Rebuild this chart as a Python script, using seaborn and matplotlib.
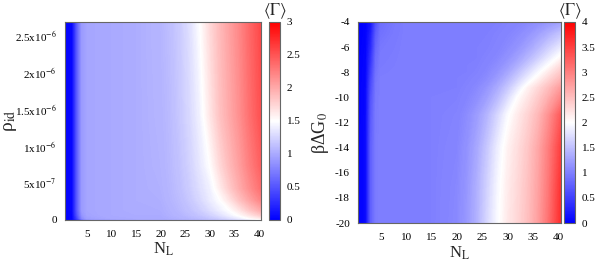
import numpy as np
import matplotlib
matplotlib.use("Agg")
import matplotlib.pyplot as plt
from matplotlib.cm import ScalarMappable
from matplotlib.colors import Normalize
import seaborn as sns

# N_L grid columns (outer columns sit on the cell edges 0.5 / 40.5)
n_l = [0.5, 2, 3, 4, 5, 10, 15, 20, 22, 24, 26, 28, 30, 32, 34, 36, 38, 40.5]

# left panel: <Gamma> read along rows of constant rho_id
rho_id = [0, 0.02e-6, 0.07e-6, 0.135e-6, 0.27e-6, 0.43e-6, 0.74e-6, 1.42e-6, 2.68e-6]
gamma_rho = [
    [0.00, 0.02, 0.25, 0.55, 0.78, 0.90, 0.94, 0.97, 0.98, 1.00, 1.02, 1.05, 1.08, 1.12, 1.17, 1.23, 1.30, 1.38],
    [0.00, 0.03, 0.40, 0.80, 0.93, 0.98, 1.00, 1.00, 1.02, 1.04, 1.07, 1.10, 1.15, 1.21, 1.29, 1.38, 1.50, 1.62],
    [0.00, 0.04, 0.50, 0.88, 0.96, 1.00, 1.01, 1.01, 1.04, 1.07, 1.11, 1.16, 1.23, 1.32, 1.42, 1.53, 1.66, 1.82],
    [0.00, 0.05, 0.55, 0.92, 0.97, 1.00, 1.02, 1.02, 1.05, 1.09, 1.14, 1.21, 1.30, 1.40, 1.50, 1.65, 1.82, 2.00],
    [0.00, 0.05, 0.55, 0.92, 0.97, 1.00, 1.02, 1.03, 1.07, 1.11, 1.18, 1.27, 1.38, 1.49, 1.66, 1.85, 2.02, 2.22],
    [0.00, 0.05, 0.55, 0.92, 0.97, 1.00, 1.02, 1.04, 1.08, 1.13, 1.21, 1.31, 1.41, 1.60, 1.80, 1.98, 2.15, 2.35],
    [0.00, 0.05, 0.55, 0.92, 0.97, 1.00, 1.02, 1.05, 1.09, 1.15, 1.24, 1.36, 1.50, 1.72, 1.90, 2.06, 2.24, 2.44],
    [0.00, 0.05, 0.55, 0.92, 0.97, 1.00, 1.02, 1.06, 1.10, 1.18, 1.28, 1.42, 1.64, 1.85, 2.00, 2.15, 2.33, 2.53],
    [0.00, 0.05, 0.55, 0.92, 0.97, 1.00, 1.02, 1.07, 1.12, 1.20, 1.32, 1.50, 1.72, 1.90, 2.05, 2.20, 2.38, 2.58],
]

# right panel: <Gamma> read along rows of constant beta*dG0
beta_dg0 = [-20, -17, -14, -11.4, -10, -9.25, -8.5, -8, -7.5, -6.9, -6.1, -5, -4]
gamma_dg0 = [
    [0.00, 0.08, 0.75, 0.97, 1.00, 1.00, 1.00, 1.08, 1.20, 1.40, 1.70, 1.96, 2.18, 2.32, 2.50, 2.75, 3.10, 3.65],
    [0.00, 0.08, 0.75, 0.97, 1.00, 1.00, 1.00, 1.07, 1.18, 1.38, 1.65, 1.93, 2.15, 2.30, 2.48, 2.72, 3.05, 3.60],
    [0.00, 0.08, 0.75, 0.97, 1.00, 1.00, 1.00, 1.05, 1.15, 1.32, 1.57, 1.86, 2.10, 2.26, 2.44, 2.68, 3.00, 3.50],
    [0.00, 0.07, 0.70, 0.96, 1.00, 1.00, 1.00, 1.03, 1.10, 1.23, 1.42, 1.68, 1.96, 2.16, 2.34, 2.55, 2.85, 3.30],
    [0.00, 0.06, 0.65, 0.94, 1.00, 1.00, 1.00, 1.01, 1.05, 1.12, 1.25, 1.45, 1.72, 2.01, 2.20, 2.40, 2.62, 2.95],
    [0.00, 0.06, 0.60, 0.93, 0.99, 1.00, 1.00, 1.00, 1.03, 1.08, 1.18, 1.34, 1.56, 1.83, 2.10, 2.30, 2.50, 2.78],
    [0.00, 0.05, 0.55, 0.91, 0.99, 1.00, 1.00, 1.00, 1.01, 1.04, 1.10, 1.22, 1.40, 1.62, 1.86, 2.08, 2.30, 2.55],
    [0.00, 0.05, 0.50, 0.89, 0.98, 1.00, 1.00, 1.00, 1.00, 1.02, 1.07, 1.16, 1.30, 1.50, 1.72, 1.94, 2.16, 2.42],
    [0.00, 0.04, 0.45, 0.87, 0.97, 1.00, 1.00, 1.00, 1.00, 1.01, 1.05, 1.11, 1.22, 1.38, 1.58, 1.80, 2.00, 2.28],
    [0.00, 0.04, 0.40, 0.85, 0.96, 1.00, 1.00, 1.00, 1.00, 1.00, 1.03, 1.07, 1.15, 1.27, 1.43, 1.62, 1.83, 2.08],
    [0.00, 0.03, 0.33, 0.80, 0.94, 1.00, 1.00, 1.00, 1.00, 1.00, 1.01, 1.04, 1.09, 1.17, 1.29, 1.44, 1.63, 1.85],
    [0.00, 0.02, 0.25, 0.72, 0.90, 1.00, 1.00, 1.00, 1.00, 1.00, 1.00, 1.02, 1.05, 1.09, 1.16, 1.26, 1.38, 1.55],
    [0.00, 0.02, 0.15, 0.62, 0.86, 1.00, 1.00, 1.00, 1.00, 1.00, 1.00, 1.00, 1.02, 1.04, 1.07, 1.11, 1.17, 1.25],
]

n_ticks = [5, 10, 15, 20, 25, 30, 35, 40]
rho_ticks = [0, 5e-7, 1e-6, 1.5e-6, 2e-6, 2.5e-6]
rho_labels = ['0', r'5x10$^{-7}$', r'1x10$^{-6}$', r'1.5x10$^{-6}$', r'2x10$^{-6}$', r'2.5x10$^{-6}$']
dg_ticks = [-20, -18, -16, -14, -12, -10, -8, -6, -4]
cb_left_ticks = [0, 0.5, 1, 1.5, 2, 2.5, 3]
cb_right_ticks = [0, 0.5, 1, 1.5, 2, 2.5, 3, 3.5, 4]

sns.set_style("white")
plt.rcParams['font.family'] = ['Liberation Serif', 'DejaVu Serif']
plt.rcParams['mathtext.fontset'] = 'stix'
plt.rcParams['axes.unicode_minus'] = False

cmap = sns.blend_palette(['#0000ff', '#ffffff', '#ff0000'], as_cmap=True)
frame = '#666666'

fig = plt.figure(figsize=(5.99, 2.64), dpi=100)
ax1 = fig.add_axes([0.1085, 0.1667, 0.328, 0.75])
cax1 = fig.add_axes([0.449, 0.1667, 0.0184, 0.75])
ax2 = fig.add_axes([0.598, 0.155, 0.3386, 0.7617])
cax2 = fig.add_axes([0.9416, 0.155, 0.0184, 0.7617])


def style_frame(a):
    for s in a.spines.values():
        s.set_color(frame)
        s.set_linewidth(0.8)
    a.tick_params(direction='in', length=3.5, width=0.7, color=frame,
                  labelsize=8, labelcolor='black')


def draw_panel(ax, cax, y, z, vmax, ylim):
    norm = Normalize(0, vmax)
    ax.contourf(n_l, y, np.array(z), levels=np.linspace(0, vmax, 301),
                cmap=cmap, norm=norm, antialiased=False, extend='both')
    ax.set_xlim(0.5, 40.5)
    ax.set_ylim(*ylim)
    ax.set_xticks(n_ticks)
    ax.xaxis.set_ticks_position('both')
    ax.yaxis.set_ticks_position('both')
    style_frame(ax)
    ax.tick_params(axis='x', pad=7)
    ax.tick_params(axis='y', pad=6)
    ax.set_xlabel(r'N$_{\rm L}$', fontsize=12)

    cb = fig.colorbar(ScalarMappable(norm=norm, cmap=cmap), cax=cax)
    cb.outline.set_edgecolor(frame)
    cb.outline.set_linewidth(0.8)
    cax.yaxis.set_ticks_position('both')
    cax.yaxis.set_label_position('right')
    cax.tick_params(labelleft=False, labelright=True, pad=5)
    style_frame(cax)
    cax.tick_params(length=4)
    cax.text(0.5, 1.055, r'$\langle\Gamma\rangle$', transform=cax.transAxes,
             ha='center', va='center', fontsize=12)
    return cb


cb1 = draw_panel(ax1, cax1, rho_id, gamma_rho, 3, (0, 2.68e-6))
ax1.set_yticks(rho_ticks)
ax1.set_yticklabels(rho_labels)
ax1.set_ylabel('ρ$_{\\rm id}$', fontsize=14)
ax1.yaxis.set_label_coords(-0.235, 0.5)
ax1.xaxis.set_label_coords(0.5, -0.105)
cb1.set_ticks(cb_left_ticks)
cb1.set_ticklabels([f'{t:g}' for t in cb_left_ticks])

cb2 = draw_panel(ax2, cax2, beta_dg0, gamma_dg0, 4, (-20, -4))
ax2.set_yticks(dg_ticks)
ax2.set_yticklabels([f'{t:g}' for t in dg_ticks])
ax2.set_ylabel('βΔG$_0$', fontsize=13)
ax2.yaxis.set_label_coords(-0.135, 0.45)
ax2.xaxis.set_label_coords(0.5, -0.105)
cb2.set_ticks(cb_right_ticks)
cb2.set_ticklabels([f'{t:g}' for t in cb_right_ticks])

fig.savefig('out.png', dpi=100)
